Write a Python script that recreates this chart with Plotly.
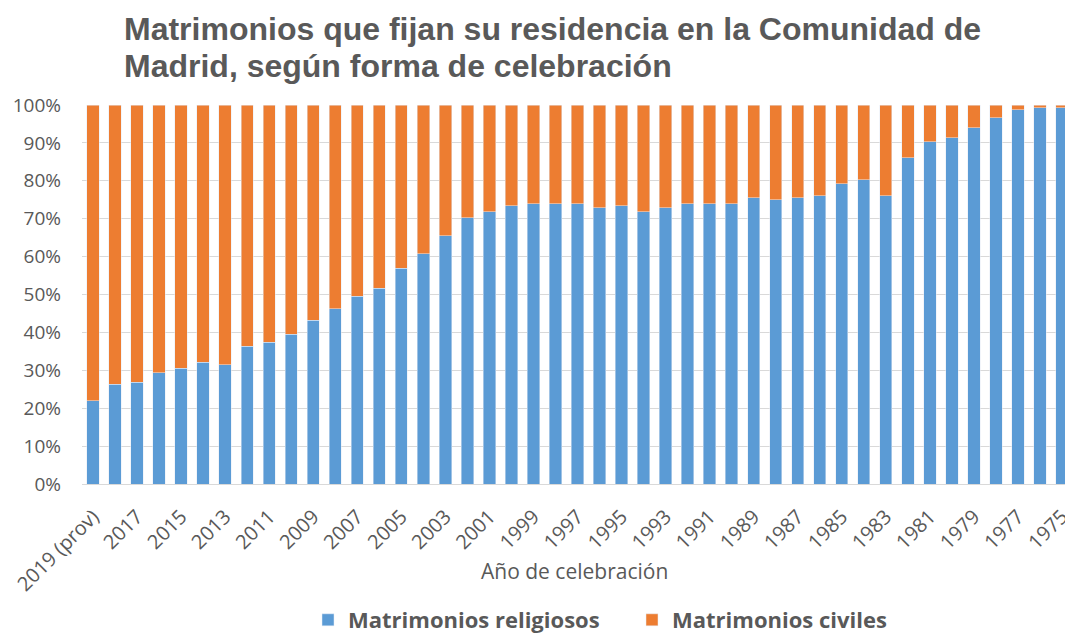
import plotly.graph_objects as go

# años de celebración (de más reciente a más antiguo)
anios = ["2019 (prov)"] + [str(a) for a in range(2018, 1974, -1)]

# % matrimonios religiosos y civiles
religiosos = [22.0, 26.3, 26.8, 29.4, 30.5, 32.1, 31.5, 36.3, 37.4, 39.5,
              43.2, 46.3, 49.5, 51.6, 56.9, 60.7, 65.5, 70.2, 71.8, 73.4,
              73.9, 73.9, 73.9, 72.9, 73.4, 71.8, 72.9, 73.9, 73.9, 73.9,
              75.5, 75.0, 75.5, 76.0, 79.2, 80.3, 76.0, 86.1, 90.3, 91.4,
              94.0, 96.7, 98.8, 99.3, 99.3]
civiles = [78.0, 73.7, 73.2, 70.6, 69.5, 67.9, 68.5, 63.7, 62.6, 60.5,
           56.8, 53.7, 50.5, 48.4, 43.1, 39.3, 34.5, 29.8, 28.2, 26.6,
           26.1, 26.1, 26.1, 27.1, 26.6, 28.2, 27.1, 26.1, 26.1, 26.1,
           24.5, 25.0, 24.5, 24.0, 20.8, 19.7, 24.0, 13.9, 9.7, 8.6,
           6.0, 3.3, 1.2, 0.7, 0.7]

# etiquetas del eje x: una de cada dos
etiquetas = anios[::2]

titulo = ['Matrimonios que fijan su residencia en la Comunidad de',
          'Madrid, según forma de celebración']
titulo_x = 'Año de celebración'

gris = '#595959'

# la página deja 8px de margen, así que la figura es algo más pequeña
W, H = 1065, 625
L, R, T, B = 74, 0, 97, 149
alto = H - T - B
ancho = W - L - R

fig = go.Figure()
fig.add_trace(go.Bar(x=anios, y=religiosos, name='Matrimonios religiosos',
                     marker_color='#5B9BD5'))
fig.add_trace(go.Bar(x=anios, y=civiles, name='Matrimonios civiles',
                     marker_color='#ED7D31'))

fig.update_layout(
    barmode='stack', bargap=0.44,
    width=W, height=H,
    margin=dict(l=L, r=R, t=T, b=B),
    paper_bgcolor='white', plot_bgcolor='white',
    legend=dict(orientation='h', xref='container', x=624 / W, xanchor='center',
                yref='container', y=1 - 612 / H, yanchor='middle',
                font=dict(family='Open Sans', size=22, color=gris, weight='bold'),
                traceorder='normal', entrywidth=279),
    font=dict(family='Open Sans', color=gris),
)

# título en dos líneas
for i, linea in enumerate(titulo):
    yc = [21, 58.5][i]
    fig.add_annotation(text=linea, xref='paper', yref='paper',
                       x=(114 - L) / ancho, xanchor='left',
                       y=1 + (T - yc) / alto, yanchor='middle', showarrow=False,
                       font=dict(family='Liberation Sans', size=32, color=gris,
                                 weight='bold'))

fig.add_annotation(text=titulo_x, xref='paper', yref='paper',
                   x=(566 - L) / ancho, xanchor='center',
                   y=-(563 - (T + alto)) / alto, yanchor='middle', showarrow=False,
                   font=dict(family='Open Sans', size=21, color=gris))

fig.update_xaxes(tickmode='array', tickvals=etiquetas, ticktext=etiquetas,
                 tickangle=-45, tickfont=dict(size=20, color=gris),
                 showline=True, linecolor='#d9d9d9', ticks='', automargin=False,
                 ticklabelstandoff=12)
fig.update_yaxes(range=[0, 100], dtick=10, ticksuffix='%',
                 tickfont=dict(size=19, color=gris), automargin=False,
                 gridcolor='#d9d9d9', zeroline=False, ticks='',
                 ticklabelstandoff=20)

fig.write_html("out.html")
